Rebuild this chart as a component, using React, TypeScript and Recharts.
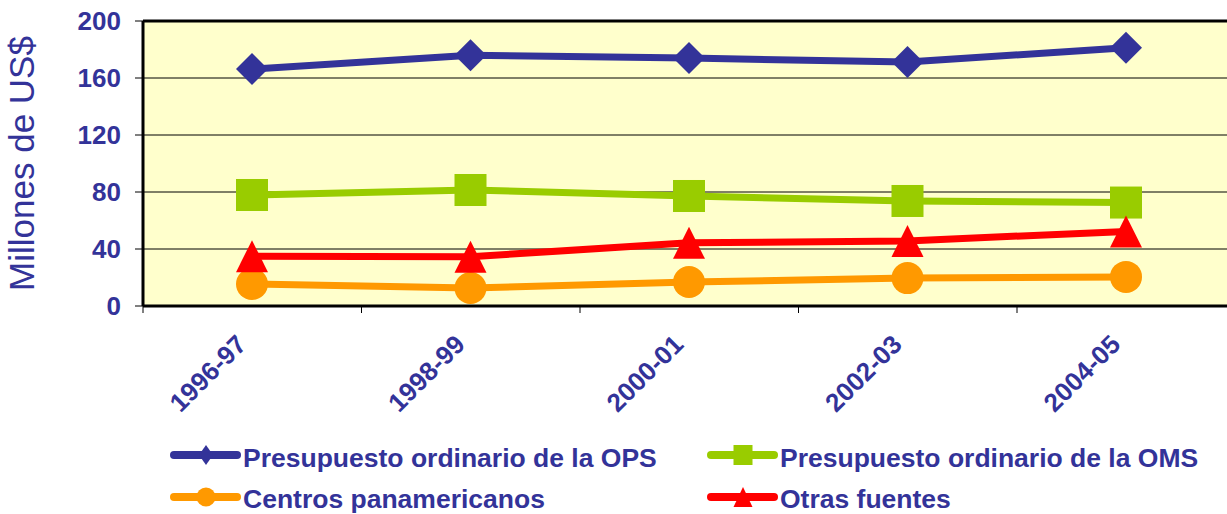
import React from 'react'
import { LineChart, Line, XAxis, YAxis, CartesianGrid, Legend, ReferenceLine } from 'recharts'

const periods = ['1996-97', '1998-99', '2000-01', '2002-03', '2004-05']
const opsBudget = [166.3, 176, 174, 171.2, 181.3]
const omsBudget = [77.9, 81.4, 77.2, 73.7, 72.6]
const panAmCenters = [15.4, 12.6, 16.8, 19.6, 20.4]
const otherSources = [35, 34.6, 44.3, 45.7, 52.3]
const yTicks = [0, 40, 80, 120, 160, 200]

const series = [
  { key: 'ops', name: 'Presupuesto ordinario de la OPS', color: '#333399', shape: 'diamond' },
  { key: 'oms', name: 'Presupuesto ordinario de la OMS', color: '#99CC00', shape: 'square' },
  { key: 'centros', name: 'Centros panamericanos', color: '#FF9900', shape: 'circle' },
  { key: 'otras', name: 'Otras fuentes', color: '#FF0000', shape: 'triangle' },
]

const chartData = periods.map((p, i) => ({
  period: p,
  ops: opsBudget[i],
  oms: omsBudget[i],
  centros: panAmCenters[i],
  otras: otherSources[i],
}))

const FONT = '"Liberation Sans", Arial, sans-serif'
const TEXT_BLUE = '#333399'
// half of one category slot, px
const HALF_SLOT = 109

function markerPath(shape: string, cx: number, cy: number, w: number, h: number, color: string, key?: any) {
  const hw = w / 2
  const hh = h / 2
  if (shape === 'diamond')
    return <path key={key} d={`M${cx},${cy - hh}L${cx + hw},${cy}L${cx},${cy + hh}L${cx - hw},${cy}Z`} fill={color} />
  if (shape === 'square')
    return <rect key={key} x={cx - hw} y={cy - hh} width={w} height={h} fill={color} />
  if (shape === 'circle')
    return <circle key={key} cx={cx} cy={cy} r={hw} fill={color} />
  return <path key={key} d={`M${cx},${cy - hh}L${cx + hw},${cy + hh}L${cx - hw},${cy + hh}Z`} fill={color} />
}

const PeriodTick = (props: any) => {
  const { x, y, payload } = props
  const half = payload && payload.offset ? payload.offset : HALF_SLOT
  const ax = x - 4
  const ay = y + 33
  return (
    <g>
      <line x1={x - half} y1={y - 7} x2={x - half} y2={y} stroke="#000" strokeWidth={1} />
      <text
        x={ax}
        y={ay}
        transform={`rotate(-45, ${ax}, ${ay})`}
        textAnchor="end"
        fontFamily={FONT}
        fontWeight="bold"
        fontSize={26}
        fill={TEXT_BLUE}
      >
        {payload.value}
      </text>
    </g>
  )
}

const LegendBox = () => {
  const top = 420
  return (
    <svg width={1227} height={94}>
      {series.map((s, i) => {
        const col = i % 2
        const row = Math.floor(i / 2)
        const x0 = col === 0 ? 174 : 711
        const y = (row === 0 ? 455 : 497) - top
        const shapeW = s.shape === 'diamond' ? 14 : 19
        return (
          <g key={s.key}>
            <line x1={x0} y1={y} x2={x0 + 63} y2={y} stroke={s.color} strokeWidth={8} strokeLinecap="round" />
            {markerPath(s.shape, x0 + 32, y, shapeW, 20, s.color)}
            <text x={x0 + 69} y={y + (row === 0 ? 12 : 11)} fontFamily={FONT} fontWeight="bold" fontSize={26.5} fill={TEXT_BLUE}>
              {s.name}
            </text>
          </g>
        )
      })}
    </svg>
  )
}

export default function App() {
  return (
    <div style={{ position: 'absolute', left: 0, top: 0, width: 1227, height: 514, overflow: 'hidden', background: '#fff' }}>
      <LineChart width={1260} height={514} data={chartData} margin={{ top: 21, right: 25, left: 0, bottom: 148 }}>
        <CartesianGrid vertical={false} stroke="#000" strokeWidth={1} fill="#FFFFCC" />
        <XAxis
          dataKey="period"
          height={60}
          interval={0}
          padding={{ left: HALF_SLOT, right: HALF_SLOT }}
          tickLine={false}
          tickSize={7}
          tickMargin={0}
          axisLine={{ stroke: '#000', strokeWidth: 3 }}
          tick={<PeriodTick />}
        />
        <YAxis
          type="number"
          domain={[0, 200]}
          ticks={yTicks}
          interval={0}
          width={143}
          tickSize={8}
          tickMargin={14}
          axisLine={{ stroke: '#000', strokeWidth: 3 }}
          tickLine={{ stroke: '#000', strokeWidth: 1 }}
          tick={{ fill: TEXT_BLUE, fontSize: 26, fontWeight: 'bold', fontFamily: FONT }}
          label={{
            content: (p: any) => {
              const vb = p.viewBox || { y: 21, height: 285 }
              const cy = vb.y + vb.height / 2
              return (
                <text x={34} y={cy} transform={`rotate(-90, 34, ${cy})`} textAnchor="middle" fontFamily={FONT} fontSize={35} fill={TEXT_BLUE}>
                  Millones de US$
                </text>
              )
            },
          }}
        />
        <ReferenceLine y={200} stroke="#000" strokeWidth={3} />
        {series.map((s) => (
          <Line
            key={s.key}
            type="linear"
            dataKey={s.key}
            name={s.name}
            stroke={s.color}
            strokeWidth={7}
            isAnimationActive={false}
            activeDot={false}
            dot={(p: any) => markerPath(s.shape, p.cx, p.cy, 32, 32, s.color, `${s.key}-${p.index}`)}
          />
        ))}
        <Legend
          layout="horizontal"
          verticalAlign="middle"
          align="center"
          wrapperStyle={{ top: 420, left: 0, width: 1227, height: 94 }}
          content={() => <LegendBox />}
        />
      </LineChart>
    </div>
  )
}
